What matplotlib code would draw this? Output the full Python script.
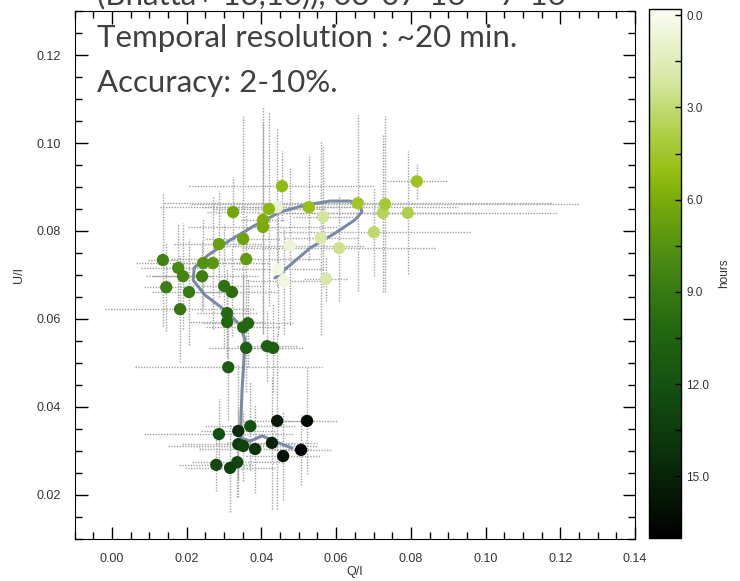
import matplotlib
matplotlib.use("Agg")
import matplotlib.pyplot as plt
import numpy as np
from matplotlib.colors import LinearSegmentedColormap, Normalize
from matplotlib.cm import ScalarMappable
from matplotlib.ticker import MultipleLocator

# Q/I, U/I, time (hours), errors
q = [0.0460, 0.0444, 0.0476, 0.0442, 0.0559, 0.0565, 0.0608, 0.0573, 0.0701, 0.0725,
     0.0792, 0.0731, 0.0658, 0.0816, 0.0527, 0.0455, 0.0420, 0.0404, 0.0404, 0.0324,
     0.0351, 0.0359, 0.0286, 0.0270, 0.0244, 0.0136, 0.0177, 0.0190, 0.0145, 0.0241,
     0.0206, 0.0182, 0.0300, 0.0321, 0.0308, 0.0308, 0.0364, 0.0351, 0.0359, 0.0415,
     0.0431, 0.0311, 0.0370, 0.0286, 0.0338, 0.0442, 0.0522, 0.0338, 0.0351, 0.0383,
     0.0428, 0.0458, 0.0506, 0.0335, 0.0279, 0.0316]
u = [0.0686, 0.0713, 0.0766, 0.0854, 0.0784, 0.0832, 0.0761, 0.0691, 0.0797, 0.0841,
     0.0841, 0.0861, 0.0863, 0.0913, 0.0854, 0.0902, 0.0850, 0.0825, 0.0809, 0.0843,
     0.0782, 0.0736, 0.0770, 0.0727, 0.0727, 0.0734, 0.0716, 0.0697, 0.0672, 0.0697,
     0.0661, 0.0622, 0.0675, 0.0661, 0.0613, 0.0593, 0.0590, 0.0581, 0.0534, 0.0538,
     0.0534, 0.0490, 0.0356, 0.0338, 0.0345, 0.0368, 0.0368, 0.0315, 0.0311, 0.0304,
     0.0318, 0.0288, 0.0302, 0.0274, 0.0268, 0.0261]
hours = [0.5, 0.3, 0.8, 1.0, 2.0, 2.2, 2.5, 2.0, 3.2, 3.5,
         3.8, 4.3, 4.6, 4.8, 5.0, 5.3, 5.4, 5.8, 6.0, 6.3,
         6.5, 7.0, 6.8, 7.3, 7.5, 8.5, 8.0, 8.3, 8.8, 8.7,
         9.0, 9.2, 9.5, 9.7, 10.0, 10.2, 10.4, 10.3, 10.8, 10.9,
         11.0, 11.2, 12.0, 12.2, 14.5, 15.5, 16.5, 13.5, 13.0, 14.0,
         15.0, 16.0, 16.8, 12.8, 12.6, 13.2]
q_err = [0.010, 0.012, 0.020, 0.020, 0.010, 0.008, 0.026, 0.006, 0.026, 0.026,
         0.040, 0.052, 0.052, 0.008, 0.040, 0.025, 0.015, 0.006, 0.020, 0.007,
         0.010, 0.020, 0.012, 0.008, 0.018, 0.004, 0.010, 0.008, 0.006, 0.015,
         0.010, 0.020, 0.010, 0.012, 0.008, 0.010, 0.012, 0.010, 0.010, 0.008,
         0.008, 0.025, 0.012, 0.020, 0.010, 0.010, 0.008, 0.015, 0.020, 0.015,
         0.012, 0.010, 0.008, 0.012, 0.010, 0.012]
u_err = [0.012, 0.015, 0.018, 0.018, 0.022, 0.016, 0.012, 0.005, 0.010, 0.018,
         0.014, 0.020, 0.020, 0.004, 0.012, 0.008, 0.022, 0.026, 0.024, 0.008,
         0.028, 0.010, 0.012, 0.015, 0.010, 0.015, 0.010, 0.012, 0.010, 0.008,
         0.012, 0.012, 0.014, 0.010, 0.010, 0.008, 0.010, 0.012, 0.010, 0.008,
         0.010, 0.012, 0.010, 0.008, 0.015, 0.020, 0.012, 0.008, 0.008, 0.010,
         0.015, 0.010, 0.008, 0.008, 0.006, 0.010]

# smoothed track
track_q = [0.0436, 0.0476, 0.0530, 0.0597, 0.0650, 0.0669, 0.0664, 0.0637, 0.0584, 0.0517,
           0.0450, 0.0383, 0.0316, 0.0257, 0.0220, 0.0217, 0.0249, 0.0302, 0.0343, 0.0356,
           0.0353, 0.0348, 0.0345, 0.0345, 0.0370, 0.0402, 0.0428, 0.0482]
track_u = [0.0693, 0.0722, 0.0761, 0.0795, 0.0825, 0.0843, 0.0859, 0.0868, 0.0868, 0.0859,
           0.0843, 0.0813, 0.0779, 0.0745, 0.0716, 0.0688, 0.0654, 0.0620, 0.0586, 0.0552,
           0.0506, 0.0438, 0.0370, 0.0329, 0.0322, 0.0334, 0.0324, 0.0306]

cb_ticks = [0.0, 3.0, 6.0, 9.0, 12.0, 15.0]
cmap_hours = [0, 2, 4, 5, 6, 8, 10, 12, 14, 17]
cmap_colors = ['#fbfdf5', '#d8e8a6', '#abcd40', '#97c014', '#7aab0a',
               '#4a8a14', '#256a10', '#145212', '#0c350c', '#000000']

vmin, vmax = -0.2, 17.0
nodes = [(h - vmin) / (vmax - vmin) for h in cmap_hours]
nodes[0] = 0.0
cmap = LinearSegmentedColormap.from_list('hrs', list(zip(nodes, cmap_colors)))
norm = Normalize(vmin, vmax)

fig = plt.figure(figsize=(7.4, 5.81), dpi=100)
ax = fig.add_axes([0.101, 0.0728, 0.757, 0.908])

eb = ax.errorbar(q, u, xerr=q_err, yerr=u_err, fmt='none', ecolor='#a0a0a0',
                 elinewidth=1.0, capsize=0, zorder=1)
for lc in eb[2]:
    lc.set_linestyle((0, (1, 1)))
ax.plot(track_q, track_u, color='#7b8ba6', lw=2.2, zorder=2, solid_capstyle='round')
ax.scatter(q, u, c=hours, cmap=cmap, norm=norm, s=78, edgecolors='none', zorder=3)

ax.set_xlim(-0.01, 0.14)
ax.set_ylim(0.01, 0.13)
ax.xaxis.set_major_locator(MultipleLocator(0.02))
ax.xaxis.set_minor_locator(MultipleLocator(0.005))
ax.yaxis.set_major_locator(MultipleLocator(0.02))
ax.yaxis.set_minor_locator(MultipleLocator(0.005))
ax.xaxis.set_major_formatter(lambda v, p: f"{v:.2f}")
ax.yaxis.set_major_formatter(lambda v, p: f"{v:.2f}")
ax.tick_params(which='both', direction='in', top=True, right=True, width=1,
               labelsize=9, pad=10, labelcolor='#333333')
ax.tick_params(which='major', length=9)
ax.tick_params(which='minor', length=5)
for t in ax.get_xticklabels() + ax.get_yticklabels():
    t.set_family('Liberation Sans')
ax.set_xlabel('Q/I', fontsize=9, family='Liberation Sans', labelpad=1, color='#333333')
ax.set_ylabel('U/I', fontsize=9, family='Liberation Sans', labelpad=8, color='#333333')

cax = fig.add_axes([0.877, 0.074, 0.0432, 0.9105])
cb = fig.colorbar(ScalarMappable(norm=norm, cmap=cmap), cax=cax)
cb.ax.invert_yaxis()
cb.set_ticks(cb_ticks)
cb.ax.yaxis.set_minor_locator(MultipleLocator(1.5))
cb.ax.yaxis.set_major_formatter(lambda v, p: f"{v:.1f}")
cb.ax.tick_params(which='both', direction='in', labelsize=8.5, pad=4, width=1,
                  labelcolor='#333333')
cb.ax.tick_params(which='major', length=4)
cb.ax.tick_params(which='minor', length=4)
for t in cb.ax.get_yticklabels():
    t.set_family('Liberation Sans')
cb.set_label('hours', fontsize=8.5, family='Liberation Sans', labelpad=6, color='#333333')
cb.outline.set_linewidth(1)

txt = dict(family='Lato', fontsize=22.5, color='#404040')
fig.text(0.131, 0.993, '(Bhatta+ 13,16)), 03-07-16 \u2013 7-16', va='baseline', **txt)
fig.text(0.131, 1 - 47 / 581, 'Temporal resolution : ~20 min.', va='baseline', **txt)
fig.text(0.131, 1 - 92 / 581, 'Accuracy: 2-10%.', va='baseline', **txt)

fig.savefig('out.png', dpi=100)
